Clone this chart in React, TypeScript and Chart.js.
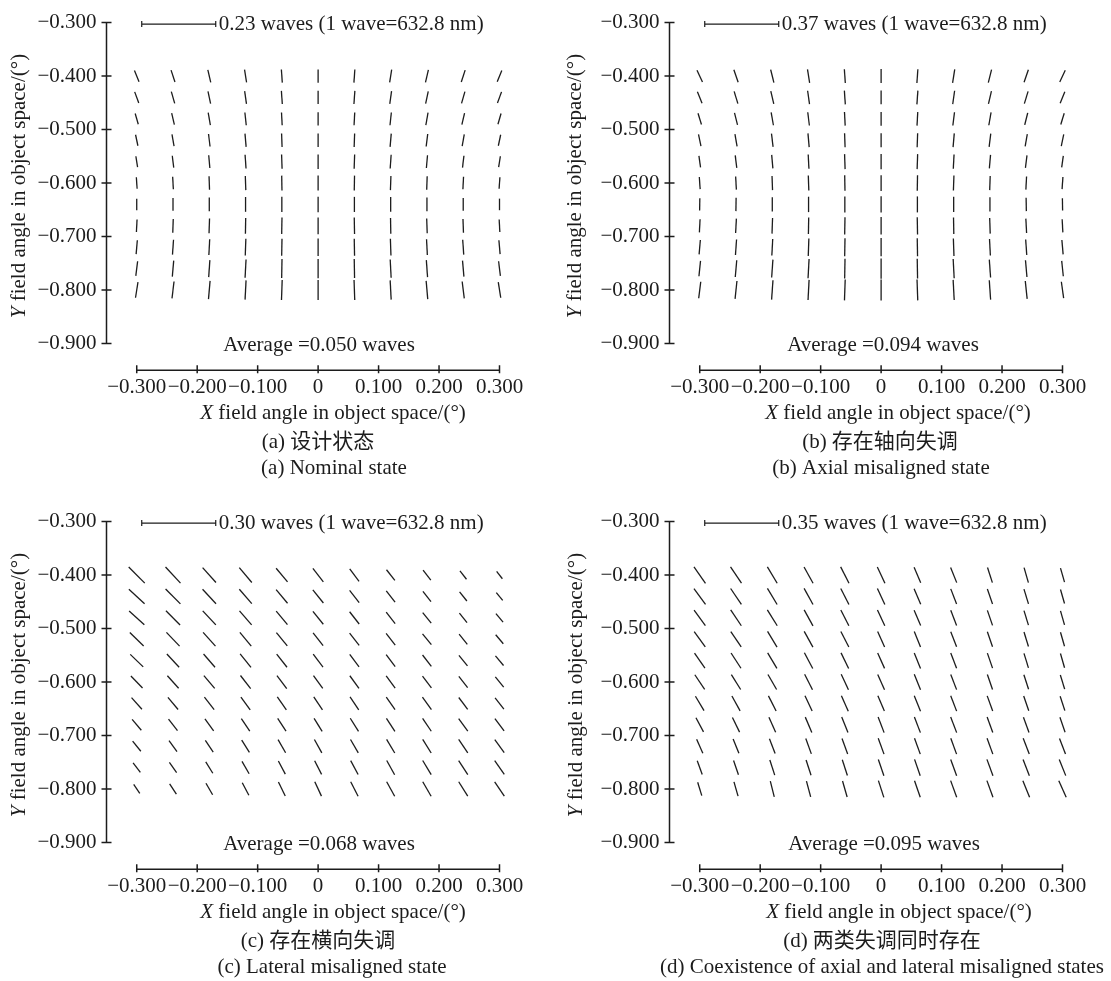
import React, { useEffect, useRef } from 'react';
import { Chart, registerables } from 'chart.js';

Chart.register(...registerables);

// Field sampling grid (degrees in object space)
const FIELD_X = [-0.3, -0.24, -0.18, -0.12, -0.06, 0, 0.06, 0.12, 0.18, 0.24, 0.3];
const FIELD_Y = [-0.4, -0.44, -0.48, -0.52, -0.56, -0.6, -0.64, -0.68, -0.72, -0.76, -0.8];

// Axis tick values
const X_TICKS = [-0.3, -0.2, -0.1, 0, 0.1, 0.2, 0.3];
const Y_TICKS = [-0.3, -0.4, -0.5, -0.6, -0.7, -0.8, -0.9];

// Astigmatism magnitude (waves) and line tilt from vertical (deg, + leans "\"), rows follow FIELD_Y
const ASTIG_A = [
  [0.038, 0.039, 0.04, 0.04, 0.041, 0.041, 0.041, 0.04, 0.04, 0.039, 0.038],
  [0.037, 0.038, 0.039, 0.04, 0.041, 0.041, 0.041, 0.04, 0.039, 0.038, 0.037],
  [0.035, 0.037, 0.039, 0.04, 0.04, 0.041, 0.04, 0.04, 0.039, 0.037, 0.035],
  [0.035, 0.037, 0.039, 0.041, 0.042, 0.042, 0.042, 0.041, 0.039, 0.037, 0.035],
  [0.034, 0.037, 0.04, 0.043, 0.044, 0.045, 0.044, 0.043, 0.04, 0.037, 0.034],
  [0.036, 0.039, 0.042, 0.044, 0.046, 0.047, 0.046, 0.044, 0.042, 0.039, 0.036],
  [0.036, 0.04, 0.043, 0.046, 0.047, 0.048, 0.047, 0.046, 0.043, 0.04, 0.036],
  [0.039, 0.043, 0.046, 0.049, 0.051, 0.052, 0.051, 0.049, 0.046, 0.043, 0.039],
  [0.043, 0.046, 0.049, 0.052, 0.053, 0.054, 0.053, 0.052, 0.049, 0.046, 0.043],
  [0.046, 0.05, 0.053, 0.057, 0.059, 0.06, 0.059, 0.057, 0.053, 0.05, 0.046],
  [0.049, 0.053, 0.057, 0.06, 0.062, 0.062, 0.062, 0.06, 0.057, 0.053, 0.049],
];
const TILT_A = [
  [22, 18, 13, 9, 4, 0, -4, -9, -13, -18, -22],
  [20, 16, 12, 8, 4, 0, -4, -8, -12, -16, -20],
  [16, 13, 10, 6, 3, 0, -3, -6, -10, -13, -16],
  [12, 10, 7, 5, 2, 0, -2, -5, -7, -10, -12],
  [9, 7, 5, 4, 2, 0, -2, -4, -5, -7, -9],
  [4, 3, 2, 2, 1, 0, -1, -2, -2, -3, -4],
  [0, 0, 0, 0, 0, 0, 0, 0, 0, 0, 0],
  [-3, -2, -2, -1, -1, 0, 1, 1, 2, 2, 3],
  [-5, -4, -3, -2, -1, 0, 1, 2, 3, 4, 5],
  [-7, -5, -4, -3, -1, 0, 1, 3, 4, 5, 7],
  [-9, -7, -5, -3, -2, 0, 2, 3, 5, 7, 9],
];

const ASTIG_B = [
  [0.065, 0.066, 0.067, 0.068, 0.069, 0.07, 0.069, 0.068, 0.067, 0.066, 0.065],
  [0.062, 0.064, 0.066, 0.068, 0.069, 0.069, 0.069, 0.068, 0.066, 0.064, 0.062],
  [0.059, 0.062, 0.065, 0.067, 0.068, 0.069, 0.068, 0.067, 0.065, 0.062, 0.059],
  [0.059, 0.062, 0.066, 0.069, 0.071, 0.071, 0.071, 0.069, 0.066, 0.062, 0.059],
  [0.058, 0.063, 0.068, 0.072, 0.075, 0.076, 0.075, 0.072, 0.068, 0.063, 0.058],
  [0.061, 0.066, 0.071, 0.075, 0.078, 0.079, 0.078, 0.075, 0.071, 0.066, 0.061],
  [0.061, 0.067, 0.072, 0.077, 0.08, 0.081, 0.08, 0.077, 0.072, 0.067, 0.061],
  [0.066, 0.072, 0.078, 0.082, 0.086, 0.087, 0.086, 0.082, 0.078, 0.072, 0.066],
  [0.072, 0.078, 0.083, 0.087, 0.09, 0.091, 0.09, 0.087, 0.083, 0.078, 0.072],
  [0.077, 0.084, 0.09, 0.096, 0.099, 0.101, 0.099, 0.096, 0.09, 0.084, 0.077],
  [0.083, 0.09, 0.097, 0.101, 0.104, 0.105, 0.104, 0.101, 0.097, 0.09, 0.083],
];
const TILT_B = [
  [25, 19, 14, 9, 4, 0, -4, -9, -14, -19, -25],
  [22, 17, 13, 8, 4, 0, -4, -8, -13, -17, -22],
  [17, 14, 10, 7, 3, 0, -3, -7, -10, -14, -17],
  [12, 10, 7, 5, 2, 0, -2, -5, -7, -10, -12],
  [8, 7, 5, 3, 2, 0, -2, -3, -5, -7, -8],
  [4, 3, 2, 2, 1, 0, -1, -2, -2, -3, -4],
  [-1, -1, 0, 0, 0, 0, 0, 0, 0, 1, 1],
  [-3, -3, -2, -1, -1, 0, 1, 1, 2, 3, 3],
  [-5, -4, -3, -2, -1, 0, 1, 2, 3, 4, 5],
  [-6, -5, -4, -3, -1, 0, 1, 3, 4, 5, 6],
  [-7, -6, -4, -3, -2, 0, 2, 3, 4, 6, 8],
];

const ASTIG_C = [
  [0.092, 0.089, 0.081, 0.079, 0.072, 0.069, 0.063, 0.055, 0.051, 0.043, 0.038],
  [0.087, 0.085, 0.08, 0.077, 0.072, 0.068, 0.063, 0.058, 0.053, 0.047, 0.041],
  [0.083, 0.081, 0.078, 0.075, 0.071, 0.067, 0.063, 0.059, 0.055, 0.049, 0.045],
  [0.078, 0.077, 0.075, 0.072, 0.07, 0.066, 0.063, 0.06, 0.057, 0.053, 0.048],
  [0.073, 0.073, 0.071, 0.07, 0.068, 0.066, 0.063, 0.061, 0.058, 0.055, 0.051],
  [0.068, 0.068, 0.068, 0.067, 0.066, 0.064, 0.063, 0.062, 0.06, 0.058, 0.054],
  [0.063, 0.064, 0.064, 0.064, 0.064, 0.063, 0.063, 0.062, 0.062, 0.06, 0.058],
  [0.058, 0.059, 0.06, 0.061, 0.062, 0.062, 0.063, 0.063, 0.063, 0.063, 0.062],
  [0.053, 0.055, 0.057, 0.059, 0.061, 0.062, 0.063, 0.064, 0.065, 0.066, 0.065],
  [0.049, 0.051, 0.054, 0.058, 0.06, 0.062, 0.064, 0.066, 0.067, 0.068, 0.068],
  [0.044, 0.05, 0.054, 0.057, 0.063, 0.064, 0.066, 0.067, 0.068, 0.069, 0.07],
];
const TILT_C = [
  [45, 43, 42, 40, 40, 38, 37, 38, 38, 38, 38],
  [47, 45, 43, 41, 40, 39, 38, 38, 38, 39, 39],
  [48, 45, 43, 41, 40, 39, 38, 38, 39, 39, 40],
  [46, 44, 42, 40, 39, 38, 38, 38, 39, 39, 40],
  [46, 43, 41, 39, 38, 37, 37, 37, 38, 39, 40],
  [44, 42, 40, 38, 37, 36, 36, 36, 37, 38, 39],
  [42, 40, 38, 36, 35, 34, 34, 35, 36, 37, 38],
  [40, 38, 36, 34, 33, 32, 32, 33, 34, 36, 37],
  [39, 36, 34, 32, 30, 29, 30, 31, 32, 34, 36],
  [37, 35, 32, 30, 28, 27, 28, 29, 31, 33, 35],
  [34, 33, 30, 28, 26, 25, 27, 29, 30, 32, 34],
];

const ASTIG_D = [
  [0.095, 0.093, 0.09, 0.088, 0.087, 0.085, 0.08, 0.077, 0.075, 0.074, 0.069],
  [0.093, 0.091, 0.089, 0.087, 0.085, 0.083, 0.08, 0.077, 0.075, 0.073, 0.069],
  [0.091, 0.09, 0.088, 0.086, 0.084, 0.082, 0.079, 0.077, 0.075, 0.072, 0.069],
  [0.089, 0.088, 0.087, 0.085, 0.083, 0.081, 0.079, 0.077, 0.075, 0.072, 0.069],
  [0.086, 0.086, 0.085, 0.084, 0.082, 0.08, 0.079, 0.077, 0.075, 0.072, 0.07],
  [0.083, 0.083, 0.082, 0.082, 0.081, 0.079, 0.079, 0.077, 0.075, 0.072, 0.07],
  [0.079, 0.08, 0.08, 0.08, 0.08, 0.079, 0.079, 0.078, 0.076, 0.074, 0.072],
  [0.076, 0.077, 0.078, 0.079, 0.079, 0.079, 0.079, 0.079, 0.078, 0.077, 0.075],
  [0.072, 0.073, 0.075, 0.077, 0.078, 0.08, 0.08, 0.08, 0.08, 0.08, 0.079],
  [0.069, 0.071, 0.075, 0.076, 0.078, 0.081, 0.082, 0.082, 0.083, 0.083, 0.082],
  [0.066, 0.07, 0.077, 0.077, 0.079, 0.083, 0.083, 0.084, 0.084, 0.085, 0.086],
];
const TILT_D = [
  [35, 34, 31, 29, 27, 25, 23, 22, 18, 16, 16],
  [36, 34, 31, 29, 27, 25, 23, 21, 19, 17, 16],
  [36, 34, 32, 29, 27, 25, 23, 21, 19, 17, 16],
  [36, 34, 31, 29, 27, 24, 22, 21, 19, 17, 16],
  [35, 33, 31, 28, 26, 24, 22, 21, 19, 17, 16],
  [34, 32, 30, 27, 25, 24, 22, 21, 19, 18, 17],
  [31, 29, 27, 25, 24, 23, 22, 21, 20, 19, 18],
  [28, 26, 24, 23, 22, 21, 21, 21, 20, 20, 19],
  [24, 22, 21, 20, 20, 20, 20, 20, 20, 21, 21],
  [20, 19, 18, 18, 18, 19, 19, 20, 20, 21, 22],
  [17, 16, 14, 15, 16, 18, 19, 20, 20, 22, 24],
];

const ASTIG = [ASTIG_A, ASTIG_B, ASTIG_C, ASTIG_D];
const TILT = [TILT_A, TILT_B, TILT_C, TILT_D];

// Reference bar value and field average for each map (waves)
const SCALE_WAVES = [0.23, 0.37, 0.3, 0.35];
const AVERAGE_WAVES = [0.05, 0.094, 0.068, 0.095];
const WAVELENGTH_NM = 632.8;

const CAPTIONS_ZH = ['(a) 设计状态', '(b) 存在轴向失调', '(c) 存在横向失调', '(d) 两类失调同时存在'];
const CAPTIONS_EN = [
  '(a) Nominal state',
  '(b) Axial misaligned state',
  '(c) Lateral misaligned state',
  '(d) Coexistence of axial and lateral misaligned states',
];

// ---- presentation ----
const INK = '#1c1c1c';
const FONT_SIZE = 21;
const SERIF = '"Liberation Serif", "Times New Roman", serif';
const MIXED = '"Liberation Serif", "Noto Sans CJK SC", sans-serif';
const BAR_PX = 74;
const PANEL_W = 548;
const AREA_TOP = 17;
const AREA_LEFT = 106.5;
const AREA_RIGHT = 499.5;
const AREA_BOTTOM = 370.2;
const X_AXIS_H = 30;

const PANEL_LAYOUT = [
  { left: 0, top: 0, height: 490, yTitleX: 19, xTitleX: 333, zhX: 318, enX: 334, avgX: 319 },
  { left: 563, top: 0, height: 490, yTitleX: 12, xTitleX: 335, zhX: 317, enX: 318, avgX: 320 },
  { left: 0, top: 499, height: 482, yTitleX: 19, xTitleX: 333, zhX: 318, enX: 332, avgX: 319 },
  { left: 563, top: 499, height: 482, yTitleX: 13, xTitleX: 336, zhX: 319, enX: 319, avgX: 321 },
];

function fmtTick(v: number): string {
  if (Math.abs(v) < 1e-9) return '0';
  return (v < 0 ? '\u2212' : '') + Math.abs(v).toFixed(3);
}

function drawItalicLead(ctx: CanvasRenderingContext2D, lead: string, rest: string, cx: number, cy: number) {
  ctx.font = `italic ${FONT_SIZE}px ${SERIF}`;
  const w1 = ctx.measureText(lead).width;
  ctx.font = `${FONT_SIZE}px ${SERIF}`;
  const w2 = ctx.measureText(rest).width;
  const x0 = cx - (w1 + w2) / 2;
  ctx.textAlign = 'left';
  ctx.textBaseline = 'middle';
  ctx.font = `italic ${FONT_SIZE}px ${SERIF}`;
  ctx.fillText(lead, x0, cy);
  ctx.font = `${FONT_SIZE}px ${SERIF}`;
  ctx.fillText(rest, x0 + w1, cy);
}

function buildConfig(index: number): any {
  const lay = PANEL_LAYOUT[index];
  const mags = ASTIG[index];
  const tilts = TILT[index];
  const pxPerWave = BAR_PX / SCALE_WAVES[index];
  const nx = FIELD_X.length;
  const points = FIELD_Y.flatMap((y) => FIELD_X.map((x) => ({ x, y })));

  const radiusOf = (c: any) => {
    const i = c.dataIndex;
    if (i == null) return 0;
    return (mags[Math.floor(i / nx)][i % nx] * pxPerWave) / 2;
  };
  const rotationOf = (c: any) => {
    const i = c.dataIndex;
    if (i == null) return 90;
    return 90 - tilts[Math.floor(i / nx)][i % nx];
  };

  const decor = {
    id: 'panelDecor',
    afterDraw(chart: any) {
      const { ctx, chartArea: area } = chart;
      const xs = chart.scales.x;
      const ys = chart.scales.y;
      ctx.save();
      ctx.strokeStyle = INK;
      ctx.fillStyle = INK;
      ctx.lineWidth = 1.5;

      // offset axes with crossing tick marks
      const ax = area.left;
      const yTop = ys.getPixelForValue(Y_TICKS[0]);
      const yBot = ys.getPixelForValue(Y_TICKS[Y_TICKS.length - 1]);
      ctx.beginPath();
      ctx.moveTo(ax, yTop);
      ctx.lineTo(ax, yBot);
      Y_TICKS.forEach((v) => {
        const p = ys.getPixelForValue(v);
        ctx.moveTo(ax - 5, p);
        ctx.lineTo(ax + 5, p);
      });
      const ay = area.bottom;
      const xL = xs.getPixelForValue(X_TICKS[0]);
      const xR = xs.getPixelForValue(X_TICKS[X_TICKS.length - 1]);
      ctx.moveTo(xL, ay);
      ctx.lineTo(xR, ay);
      X_TICKS.forEach((v) => {
        const p = xs.getPixelForValue(v);
        ctx.moveTo(p, ay - 5);
        ctx.lineTo(p, ay + 3);
      });
      ctx.stroke();

      // reference bar
      const by = yTop + 1.5;
      const bx0 = xL + 5;
      const bx1 = bx0 + BAR_PX;
      ctx.lineWidth = 1.2;
      ctx.beginPath();
      ctx.moveTo(bx0, by);
      ctx.lineTo(bx1, by);
      ctx.moveTo(bx0, by - 3);
      ctx.lineTo(bx0, by + 3);
      ctx.moveTo(bx1, by - 3);
      ctx.lineTo(bx1, by + 3);
      ctx.stroke();

      ctx.font = `${FONT_SIZE}px ${SERIF}`;
      ctx.textAlign = 'left';
      ctx.textBaseline = 'middle';
      ctx.fillText(`${SCALE_WAVES[index].toFixed(2)} waves (1 wave=${WAVELENGTH_NM} nm)`, bx1 + 3, by);

      ctx.textAlign = 'center';
      ctx.fillText(`Average =${AVERAGE_WAVES[index].toFixed(3)} waves`, lay.avgX, yBot + 2.5);

      // axis titles
      drawItalicLead(ctx, 'X', ' field angle in object space/(\u00b0)', lay.xTitleX, ay + 43);
      ctx.save();
      ctx.translate(lay.yTitleX, (yTop + yBot) / 2 + 3);
      ctx.rotate(-Math.PI / 2);
      drawItalicLead(ctx, 'Y', ' field angle in object space/(\u00b0)', 0, 0);
      ctx.restore();

      // captions
      ctx.textAlign = 'center';
      ctx.textBaseline = 'middle';
      ctx.font = `${FONT_SIZE}px ${MIXED}`;
      ctx.fillText(CAPTIONS_ZH[index], lay.zhX, ay + 72);
      ctx.font = `${FONT_SIZE}px ${SERIF}`;
      ctx.fillText(CAPTIONS_EN[index], lay.enX, ay + 98.5);
      ctx.restore();
    },
  };

  const tickFont = { family: SERIF, size: FONT_SIZE };

  return {
    type: 'scatter',
    data: {
      datasets: [
        {
          data: points,
          clip: false,
          showLine: false,
          pointStyle: 'line',
          pointRadius: radiusOf,
          pointHoverRadius: radiusOf,
          pointRotation: rotationOf,
          pointBorderColor: INK,
          pointBorderWidth: 1.3,
          pointBackgroundColor: 'rgba(0,0,0,0)',
          pointHitRadius: 0,
        },
      ],
    },
    options: {
      responsive: false,
      animation: false,
      events: [],
      layout: {
        padding: {
          top: AREA_TOP,
          left: 0,
          right: PANEL_W - AREA_RIGHT,
          bottom: lay.height - AREA_BOTTOM - X_AXIS_H,
        },
      },
      plugins: {
        legend: { display: false },
        tooltip: { enabled: false },
        title: { display: false },
      },
      scales: {
        x: {
          type: 'linear',
          position: 'bottom',
          bounds: 'data',
          min: -0.35,
          max: 0.3,
          afterFit: (s: any) => {
            s.height = X_AXIS_H;
          },
          afterBuildTicks: (s: any) => {
            s.ticks = X_TICKS.map((value) => ({ value }));
          },
          grid: { display: false, drawTicks: false },
          border: { display: false },
          ticks: {
            autoSkip: false,
            maxRotation: 0,
            minRotation: 0,
            padding: 5,
            color: INK,
            font: tickFont,
            callback: (v: any) => fmtTick(Number(v)),
          },
        },
        y: {
          type: 'linear',
          position: 'left',
          bounds: 'data',
          min: -0.95,
          max: -0.3,
          afterFit: (s: any) => {
            s.width = AREA_LEFT;
          },
          afterBuildTicks: (s: any) => {
            s.ticks = Y_TICKS.map((value) => ({ value }));
          },
          grid: { display: false, drawTicks: false },
          border: { display: false },
          ticks: {
            autoSkip: false,
            padding: 10,
            color: INK,
            font: tickFont,
            callback: (v: any) => fmtTick(Number(v)),
          },
        },
      },
    },
    plugins: [decor],
  };
}

function AstigmatismPanel({ index }: { index: number }) {
  const ref = useRef<HTMLCanvasElement | null>(null);
  const lay = PANEL_LAYOUT[index];
  useEffect(() => {
    const canvas = ref.current;
    if (!canvas) return;
    const chart = new Chart(canvas, buildConfig(index));
    return () => chart.destroy();
  }, [index]);
  return (
    <canvas
      ref={ref}
      width={PANEL_W}
      height={lay.height}
      style={{ position: 'absolute', left: lay.left, top: lay.top, width: PANEL_W, height: lay.height, display: 'block' }}
    />
  );
}

export default function App() {
  return (
    <div style={{ position: 'absolute', left: 0, top: 0, width: 1111, height: 981, background: '#fff', overflow: 'hidden' }}>
      {[0, 1, 2, 3].map((i) => (
        <AstigmatismPanel key={i} index={i} />
      ))}
    </div>
  );
}
